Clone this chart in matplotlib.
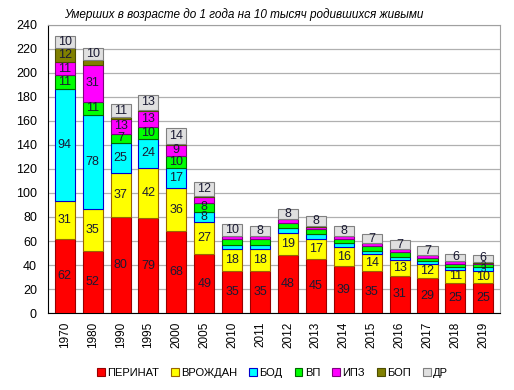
import numpy as np
import matplotlib.pyplot as plt

plt.rcParams['font.family'] = ['Liberation Sans', 'DejaVu Sans']

# данные
years = ['1970', '1980', '1990', '1995', '2000', '2005', '2010', '2011',
         '2012', '2013', '2014', '2015', '2016', '2017', '2018', '2019']
perinat = [62, 52, 80, 79, 68, 49, 35, 35, 48, 45, 39, 35, 31, 29, 25, 25]
vrozhd = [31, 35, 37, 42, 36, 27, 18, 18, 19, 17, 16, 14, 13, 12, 11, 10]
bod = [94, 78, 25, 24, 17, 8, 4, 4, 4, 4, 3, 3, 3, 2, 2, 3]
vp = [11, 11, 7, 10, 10, 8, 5, 5, 4, 4, 4, 4, 4, 3, 3, 3]
ipz = [11, 31, 13, 13, 9, 5, 2, 2, 3, 2, 2, 2, 2, 2, 2, 1]
bop = [12, 4, 1, 1, 0.5, 0.5, 0.5, 0.5, 0.5, 0.5, 0.5, 0.5, 0.5, 0.5, 0.5, 0.5]
dr = [10, 10, 11, 13, 14, 12, 10, 8, 8, 8, 8, 7, 7, 7, 6, 6]

series = [('ПЕРИНАТ', perinat, '#ff0000', '#990000'),
          ('ВРОЖДАН', vrozhd, '#ffff00', '#996600'),
          ('БОД', bod, '#00ffff', '#0000cc'),
          ('ВП', vp, '#00ff00', '#006600'),
          ('ИПЗ', ipz, '#ff00ff', '#800080'),
          ('БОП', bop, '#808000', '#4d4d00'),
          ('ДР', dr, '#e0e0e0', '#808080')]

fig = plt.figure(figsize=(5.14, 3.90), dpi=100)
ax = fig.add_axes([0.0934, 0.1974, 0.8794, 0.7386])

x = np.arange(len(years))
bottom = np.zeros(len(years))
for name, vals, col, ec in series:
    vals = np.array(vals, dtype=float)
    ax.bar(x, vals, 0.72, bottom=bottom, color=col, edgecolor=ec,
           linewidth=0.8, label=name, zorder=3)
    for i, v in enumerate(vals):
        small = i == len(years) - 1 and name in ('БОД', 'ВП')
        if v >= 6 or small:
            ax.text(x[i], bottom[i] + v / 2, '%d' % v, ha='center',
                    va='center', fontsize=7 if small else 9,
                    color='#1a1a33', zorder=4)
    bottom += vals

ax.set_xlim(-0.6, len(years) - 0.4)
ax.set_ylim(0, 240)
ax.set_yticks(range(0, 241, 20))
ax.set_xticks(x)
ax.set_xticklabels(years, rotation=90, fontsize=8.5)
ax.tick_params(axis='y', labelsize=9, length=0, pad=8)
ax.tick_params(axis='x', length=0, pad=6)
ax.yaxis.grid(True, color='#b0b0b0', linewidth=0.9, zorder=0)
for s in ['top', 'right']:
    ax.spines[s].set_color('#a0a0a0')
ax.spines['left'].set_color('black')
ax.spines['bottom'].set_color('black')

fig.text(0.475, 0.962, 'Умерших в возрасте до 1 года на 10 тысяч родившихся живыми',
         ha='center', va='center', fontsize=8.5, style='italic')

fig.legend(loc='center', bbox_to_anchor=(0.53, 0.044), ncol=7, frameon=False,
           fontsize=8, handlelength=0.7, handleheight=0.7, handletextpad=0.2,
           columnspacing=1.1)

fig.savefig('out.png', dpi=100)
